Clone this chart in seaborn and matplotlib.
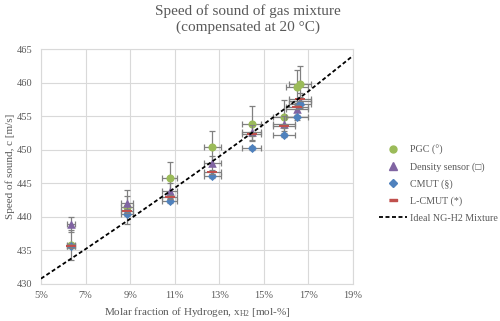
import matplotlib
matplotlib.use("Agg")
import matplotlib.pyplot as plt
import seaborn as sns
from matplotlib.lines import Line2D
from matplotlib.ticker import FuncFormatter

# ---- data ----
x_h2 = [6.34, 8.86, 10.77, 12.69, 14.46, 15.90, 16.48, 16.63]
x_err = [0.19, 0.27, 0.32, 0.38, 0.43, 0.48, 0.49, 0.50]

pgc = [435.8, 441.5, 445.8, 450.4, 453.9, 454.8, 459.4, 459.8]
pgc_err = [2.2, 2.5, 2.4, 2.4, 2.6, 2.6, 2.5, 2.7]

density = [438.9, 442.0, 443.9, 448.0, 452.6, 453.9, 456.1, 457.3]
density_err = [1.1, 1.1, 1.1, 1.1, 1.1, 1.1, 1.1, 1.1]

cmut = [435.6, 440.4, 442.3, 446.1, 450.3, 452.2, 454.8, 456.8]
cmut_err = [0.3, 0.3, 0.3, 0.3, 0.3, 0.3, 0.3, 0.3]

lcmut = [435.7, 440.8, 442.9, 446.7, 452.3, 453.5, 456.3, 457.6]
lcmut_err = [0.3, 0.3, 0.3, 0.3, 0.3, 0.3, 0.3, 0.3]

ideal_x = [5, 7, 9, 11, 13, 15, 17, 19]
ideal_c = [430.8, 435.2, 439.7, 444.3, 449.0, 453.8, 458.7, 464.0]

labels = ["PGC (°)", "Density sensor (\u25a1)", "CMUT (§)", "L-CMUT (*)", "Ideal NG-H2 Mixture"]
x_ticks = [5, 7, 9, 11, 13, 15, 17, 19]
y_ticks = [430, 435, 440, 445, 450, 455, 460, 465]

# ---- style ----
sns.set_theme(style="whitegrid")
plt.rcParams["font.family"] = ["Liberation Serif", "DejaVu Serif"]
plt.rcParams["mathtext.fontset"] = "custom"
plt.rcParams["mathtext.rm"] = "Liberation Serif"
plt.rcParams["mathtext.it"] = "Liberation Serif:italic"

TXT = "#595959"
GRID = "#D9D9D9"
ERR = "#808080"

fig = plt.figure(figsize=(5, 3.21), dpi=100)
ax = fig.add_axes([0.082, 0.1153, 0.624, 0.732])

rect = [(-1, -0.32), (1, -0.32), (1, 0.32), (-1, 0.32)]
series = [
    (pgc, pgc_err, "#9BBB59", "o", 34),
    (density, density_err, "#8064A2", "^", 38),
    (cmut, cmut_err, "#4F81BD", "D", 22),
    (lcmut, lcmut_err, "#C0504D", rect, 44),
]

for i, (vals, errs, col, mk, s) in enumerate(series):
    ax.errorbar(x_h2, vals, yerr=errs, xerr=x_err, fmt="none", ecolor=ERR,
                elinewidth=0.9, capsize=2.5, capthick=0.9, zorder=3 + 2 * i)
    sns.scatterplot(x=x_h2, y=vals, marker=mk, color=col, s=s, linewidth=0,
                    ax=ax, zorder=4 + 2 * i, legend=False)

sns.lineplot(x=ideal_x, y=ideal_c, color="black", linewidth=1.3,
             linestyle=(0, (2.2, 1.4)), ax=ax, legend=False, zorder=20)

ax.set_xlim(5, 19)
ax.set_ylim(430, 465)
ax.set_xticks(x_ticks)
ax.set_yticks(y_ticks)
ax.xaxis.set_major_formatter(FuncFormatter(lambda v, p: f"{v:.0f}%"))
ax.grid(True, color=GRID, linewidth=0.8)
for sp in ax.spines.values():
    sp.set_color(GRID)
    sp.set_linewidth(0.8)
ax.tick_params(axis="both", length=0, labelsize=7.5, colors=TXT)
ax.tick_params(axis="y", pad=6)
ax.tick_params(axis="x", pad=5)

ax.set_xlabel("Molar fraction of Hydrogen, x$_{\\mathrm{H2}}$ [mol-%]", fontsize=8, color=TXT, labelpad=4)
ax.set_ylabel("Speed of sound, c [m/s]", fontsize=8, color=TXT, labelpad=1.5)

fig.text(0.496, 0.988, "Speed of sound of gas mixture\n(compensated at 20 °C)",
         ha="center", va="top", fontsize=11, color=TXT, linespacing=1.3)

handles = [
    Line2D([], [], ls="none", marker="o", color="#9BBB59", markersize=5),
    Line2D([], [], ls="none", marker="^", color="#8064A2", markersize=5.5),
    Line2D([], [], ls="none", marker="D", color="#4F81BD", markersize=4),
    Line2D([], [], ls="none", marker=rect, color="#C0504D", markersize=6),
    Line2D([], [], color="black", linewidth=1.3, linestyle=(0, (2.2, 1.4))),
]
fig.legend(handles, labels, loc="center left", bbox_to_anchor=(0.758, 0.427),
           frameon=False, fontsize=7.2, handlelength=2.75, handletextpad=0.3,
           labelspacing=0.74, labelcolor=TXT, borderpad=0, borderaxespad=0)

fig.savefig("out.png", dpi=100)
